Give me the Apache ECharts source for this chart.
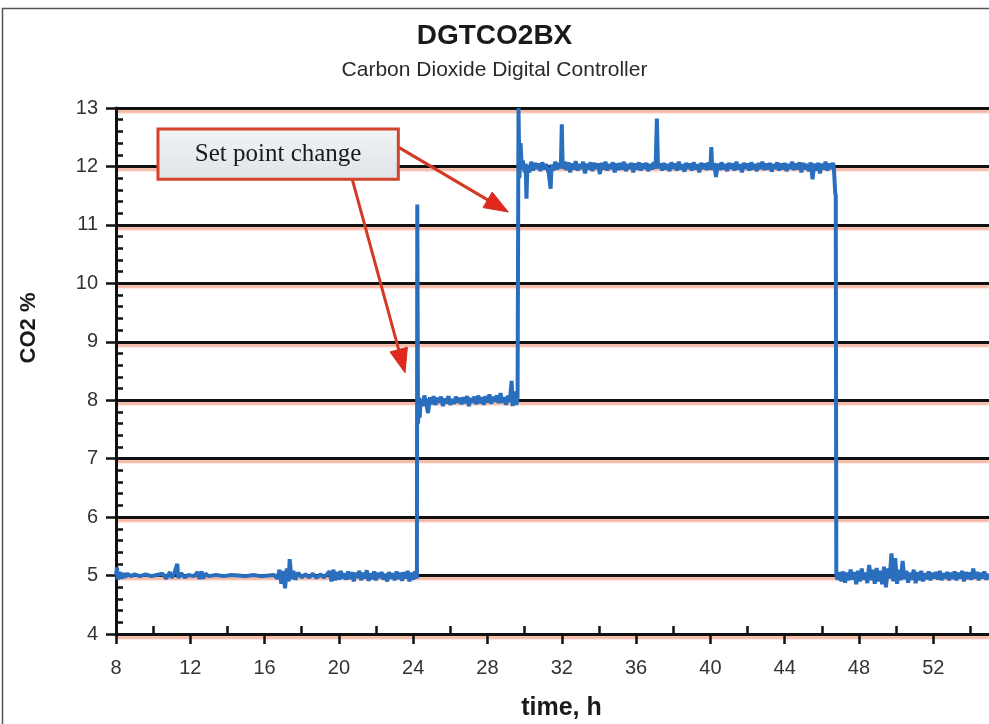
<!DOCTYPE html>
<html>
<head>
<meta charset="utf-8">
<script src="https://cdn.jsdelivr.net/npm/echarts@6/dist/echarts.min.js"></script>
<style>
html,body{margin:0;padding:0;background:#fff;overflow:hidden;}
#chart{width:989px;height:724px;}
</style>
</head>
<body>
<div id="chart"></div>
<script>
// ---- data ----
var chartTitle = 'DGTCO2BX';
var chartSubtitle = 'Carbon Dioxide Digital Controller';
var xAxisName = 'time, h';
var yAxisName = 'CO2 %';
var annotationText = 'Set point change';

// [time h, CO2 %]
var baseline5a = [
[8.0,5.0],[8.05,5.14],[8.1,4.93],[8.2,5.06],[8.3,4.95],[8.4,5.04],[8.5,4.97],[8.6,5.03],[8.8,4.99],[9.0,5.02],
[9.3,4.99],[9.6,5.02],[9.9,4.99],[10.2,5.01],[10.5,5.03],[10.7,4.95],[10.9,5.06],[11.0,4.96],[11.15,5.05],[11.3,5.2],
[11.35,4.96],[11.5,5.04],[11.7,4.97],[11.9,5.01],[12.2,4.99],[12.4,5.06],[12.5,4.94],[12.6,5.07],[12.7,4.95],[12.8,5.03],
[13.0,4.99],[13.4,5.01],[13.8,4.99],[14.2,5.01],[14.6,5.0],[15.0,4.99],[15.4,5.01],[15.8,4.99],[16.2,5.0],[16.5,5.01],
[16.7,4.95],[16.8,5.1],[16.9,4.86],[17.0,5.08],[17.1,4.78],[17.2,5.12],[17.3,4.9],[17.35,5.28],[17.45,4.94],[17.55,5.08],
[17.65,4.93],[17.8,5.05],[18.0,4.97],[18.2,5.02],[18.4,4.97],[18.6,5.03],[18.8,4.96],[19.0,5.02],[19.2,4.97],[19.5,5.07],
[19.6,4.9],[19.7,5.1],[19.8,4.92],[19.9,5.06],[20.0,4.93],[20.1,5.08],[20.2,4.95],[20.3,5.04],[20.4,4.93],[20.5,5.07],
[20.6,4.94],[20.7,5.06],[20.8,4.9],[20.9,5.05],[21.0,4.96],[21.1,5.08],[21.2,4.92],[21.3,5.05],[21.4,4.95],[21.5,5.09],
[21.6,4.91],[21.7,5.04],[21.8,4.94],[21.9,5.07],[22.0,4.92],[22.1,5.05],[22.2,4.96],[22.3,5.06],[22.4,4.93],[22.5,5.03],
[22.6,4.9],[22.7,5.06],[22.8,4.95],[22.9,5.04],[23.0,4.92],[23.1,5.07],[23.2,4.94],[23.3,5.05],[23.4,4.91],[23.5,5.06],
[23.6,4.95],[23.7,5.08],[23.8,4.9],[23.9,5.05],[24.0,4.93],[24.1,5.07],[24.2,4.95]
];
var stepTo8 = [[24.22,11.35],[24.26,7.6],[24.3,8.05]];
var level8 = [
[24.35,7.7],[24.4,8.02],[24.5,7.9],[24.6,8.08],[24.7,7.95],[24.8,7.78],[24.9,8.05],[25.0,7.93],[25.1,8.07],[25.2,7.92],
[25.3,8.04],[25.4,7.96],[25.5,8.06],[25.6,7.9],[25.7,8.03],[25.8,7.95],[25.9,8.07],[26.0,7.92],[26.1,8.02],[26.2,7.94],
[26.3,8.06],[26.4,7.96],[26.5,8.04],[26.6,7.93],[26.7,8.05],[26.8,7.95],[26.9,8.07],[27.0,7.9],[27.1,8.04],[27.2,7.96],
[27.3,8.06],[27.4,7.93],[27.5,8.08],[27.6,7.95],[27.7,8.05],[27.8,7.92],[27.9,8.07],[28.0,7.96],[28.1,8.1],[28.2,7.94],
[28.3,8.06],[28.4,7.98],[28.5,8.08],[28.6,7.95],[28.7,8.12],[28.8,7.96],[28.9,8.05],[29.0,7.92],[29.1,8.08],[29.2,7.97],
[29.3,8.33],[29.35,7.9],[29.45,8.15],[29.55,7.92],[29.62,8.05]
];
var stepTo12 = [[29.67,13.0],[29.72,11.8],[29.78,12.4],[29.85,11.95]];
var level12 = [
[29.9,12.1],[30.0,11.9],[30.05,12.05],[30.1,11.45],[30.15,12.02],[30.25,11.9],[30.35,12.08],[30.45,11.93],[30.55,12.06],[30.65,11.96],
[30.75,12.05],[30.85,11.92],[30.95,12.07],[31.05,11.95],[31.15,12.04],[31.3,11.88],[31.4,11.62],[31.45,12.03],[31.55,11.93],[31.65,12.08],
[31.75,11.95],[31.85,12.06],[31.95,11.97],[32.0,12.72],[32.05,11.96],[32.15,12.08],[32.25,11.94],[32.35,12.07],[32.45,11.9],[32.55,12.05],
[32.65,11.95],[32.75,12.09],[32.85,11.93],[32.95,12.04],[33.05,11.96],[33.15,12.08],[33.25,11.88],[33.35,12.05],[33.45,11.95],[33.55,12.07],
[33.65,11.92],[33.75,12.06],[33.85,11.96],[33.95,12.05],[34.05,11.87],[34.15,12.06],[34.25,11.95],[34.35,12.08],[34.45,11.93],[34.55,12.04],
[34.65,11.96],[34.75,12.07],[34.85,11.9],[34.95,12.05],[35.05,11.94],[35.15,12.06],[35.25,11.95],[35.35,12.08],[35.45,11.92],[35.55,12.04],
[35.65,11.96],[35.75,12.06],[35.85,11.9],[35.95,12.05],[36.05,11.95],[36.15,12.07],[36.25,11.93],[36.35,12.05],[36.45,11.96],[36.55,12.06],
[36.65,11.92],[36.75,12.04],[36.85,11.95],[36.95,12.07],[37.05,11.96],[37.12,12.82],[37.18,11.97],[37.3,12.05],[37.4,11.93],[37.5,12.06],
[37.6,11.95],[37.7,12.04],[37.8,11.92],[37.9,12.07],[38.0,11.96],[38.1,12.05],[38.2,11.93],[38.3,12.08],[38.4,11.95],[38.5,12.04],
[38.6,11.91],[38.7,12.06],[38.8,11.96],[38.9,12.05],[39.0,11.93],[39.1,12.07],[39.2,11.95],[39.3,12.04],[39.4,11.9],[39.5,12.06],
[39.6,11.96],[39.7,12.05],[39.8,11.94],[39.9,12.07],[40.0,11.95],[40.05,12.33],[40.1,11.94],[40.2,12.06],[40.3,11.82],[40.4,12.05],
[40.5,11.94],[40.6,12.07],[40.7,11.95],[40.8,12.04],[40.9,11.92],[41.0,12.06],[41.1,11.96],[41.2,12.05],[41.3,11.93],[41.4,12.08],
[41.5,11.95],[41.6,12.04],[41.7,11.9],[41.8,12.06],[41.9,11.96],[42.0,12.05],[42.1,11.93],[42.2,12.07],[42.3,11.95],[42.4,12.04],
[42.5,11.92],[42.6,12.06],[42.7,11.96],[42.8,12.08],[42.9,11.94],[43.0,12.05],[43.1,11.95],[43.2,12.06],[43.3,11.91],[43.4,12.04],
[43.5,11.96],[43.6,12.07],[43.7,11.93],[43.8,12.05],[43.9,11.95],[44.0,12.06],[44.1,11.92],[44.2,12.04],[44.3,11.96],[44.4,12.08],
[44.5,11.94],[44.6,12.05],[44.7,11.95],[44.8,12.07],[44.9,11.9],[45.0,12.06],[45.1,11.95],[45.2,12.04],[45.3,11.92],[45.4,12.07],
[45.5,11.78],[45.6,12.05],[45.7,11.93],[45.8,12.06],[45.9,11.88],[46.0,12.05],[46.1,11.95],[46.2,12.08],[46.3,11.93],[46.4,12.05],
[46.5,11.96],[46.6,12.06],[46.65,11.97]
];
var stepTo5 = [[46.7,11.98],[46.72,11.55],[46.75,11.5],[46.78,5.0]];
var baseline5b = [
[46.85,4.93],[46.95,5.06],[47.05,4.9],[47.15,5.07],[47.25,4.88],[47.35,5.05],[47.45,4.92],[47.55,5.1],[47.65,4.93],[47.75,5.06],
[47.85,4.85],[47.95,5.08],[48.05,4.9],[48.15,5.12],[48.25,4.93],[48.35,5.05],[48.45,4.87],[48.55,5.18],[48.65,4.92],[48.75,5.1],
[48.85,4.86],[48.95,5.13],[49.05,4.9],[49.15,5.08],[49.25,4.85],[49.35,5.15],[49.45,4.8],[49.55,5.12],[49.65,4.95],[49.75,5.38],
[49.85,4.9],[49.95,5.3],[50.05,4.86],[50.15,5.1],[50.25,4.92],[50.35,5.25],[50.45,4.94],[50.55,5.08],[50.65,4.88],[50.75,5.05],
[50.85,4.93],[50.95,5.1],[51.05,4.87],[51.15,5.06],[51.25,4.92],[51.35,5.08],[51.45,4.9],[51.55,5.04],[51.65,4.94],[51.75,5.07],
[51.85,4.92],[51.95,5.05],[52.05,4.95],[52.15,5.06],[52.25,4.93],[52.35,5.08],[52.45,4.92],[52.55,5.04],[52.65,4.95],[52.75,5.06],
[52.85,4.92],[52.95,5.05],[53.05,4.94],[53.15,5.07],[53.25,4.92],[53.35,5.05],[53.45,4.95],[53.55,5.08],[53.65,4.9],[53.75,5.06],
[53.85,4.94],[53.95,5.05],[54.05,4.93],[54.15,5.12],[54.25,4.95],[54.35,5.06],[54.45,4.92],[54.55,5.05],[54.65,4.95],[54.75,5.07],
[54.85,4.93],[55.0,5.03]
];

var xMin = 8, xMax = 55, xStep = 4;
var yMin = 4, yMax = 13, yStep = 1;

// annotation anchors in data coordinates [time, CO2]
var boxTopLeft = [10.26, 12.64], boxBottomRight = [23.2, 11.78];
var arrow1 = {from: [23.2, 12.33], to: [29.12, 11.22]};
var arrow2 = {from: [20.72, 11.78], to: [23.56, 8.47]};

var co2Data = [].concat(baseline5a, stepTo8, level8, stepTo12, level12, stepTo5, baseline5b);

var chart = echarts.init(document.getElementById('chart'), null, {renderer: 'canvas', width: 989, height: 724});
var FONT = '"Liberation Sans", Arial, sans-serif';

var option = {
  backgroundColor: '#ffffff',
  animation: false,
  title: {
    text: chartTitle,
    subtext: chartSubtitle,
    left: 'center',
    top: 17,
    itemGap: 10,
    textStyle: {fontFamily: FONT, fontSize: 28, fontWeight: 'bold', color: '#1a1a1a'},
    subtextStyle: {fontFamily: FONT, fontSize: 21, color: '#2a2a2a'}
  },
  grid: {left: 116, width: 873, top: 108, height: 526, containLabel: false, outerBoundsMode: 'none'},
  xAxis: [{
    type: 'value', min: xMin, max: xMax, interval: xStep,
    name: xAxisName, nameLocation: 'middle', nameGap: 62,
    nameTextStyle: {fontFamily: FONT, fontSize: 25, fontWeight: 'bold', color: '#1a1a1a', padding: [0, 0, 0, 18]},
    axisLine: {show: true, onZero: false, lineStyle: {color: '#111', width: 3}},
    axisTick: {show: true, inside: false, length: 10, lineStyle: {color: '#111', width: 2.5}},
    axisLabel: {fontFamily: FONT, fontSize: 20, color: '#333', margin: 24, showMaxLabel: false},
    splitLine: {show: false}
  }, {
    type: 'value', min: xMin, max: xMax, interval: xStep, position: 'bottom',
    axisLine: {show: false},
    axisTick: {show: false, inside: true},
    minorTick: {show: true, splitNumber: 2, length: 8, lineStyle: {color: '#111', width: 2.5}},
    axisLabel: {show: false},
    splitLine: {show: false}
  }],
  yAxis: [{
    type: 'value', min: yMin, max: yMax, interval: yStep,
    name: yAxisName, nameLocation: 'middle', nameGap: 76, nameRotate: 90,
    nameTextStyle: {fontFamily: FONT, fontSize: 22, fontWeight: 'bold', color: '#1a1a1a', padding: [0, 0, 0, 86]},
    axisLine: {show: true, onZero: false, lineStyle: {color: '#111', width: 3}},
    axisTick: {show: true, inside: false, length: 10, lineStyle: {color: '#111', width: 2.5}},
    axisLabel: {fontFamily: FONT, fontSize: 20, color: '#333', margin: 18},
    splitLine: {show: true, lineStyle: {color: '#111', width: 3,
      shadowColor: 'rgba(235,110,70,0.55)', shadowOffsetY: 3, shadowBlur: 2}}
  }, {
    type: 'value', min: yMin, max: yMax, interval: yStep, position: 'left',
    axisLine: {show: false},
    axisTick: {show: false, inside: true},
    minorTick: {show: true, splitNumber: 5, length: 7, lineStyle: {color: '#111', width: 2.5}},
    axisLabel: {show: false},
    splitLine: {show: false}
  }],
  series: [{
    type: 'line',
    name: yAxisName,
    xAxisIndex: 0, yAxisIndex: 0,
    data: co2Data,
    showSymbol: false,
    symbol: 'none',
    lineStyle: {color: '#2a6fbd', width: 4},
    z: 3
  }]
};
chart.setOption(option);

function px(p) { return chart.convertToPixel({gridIndex: 0}, p); }
function arrowGraphics(a) {
  var s = px(a.from), e = px(a.to);
  var dx = e[0] - s[0], dy = e[1] - s[1];
  var L = Math.sqrt(dx * dx + dy * dy);
  var ux = dx / L, uy = dy / L;
  var headLen = 24, headW = 9;
  var bx = e[0] - ux * headLen, by = e[1] - uy * headLen;
  return [{
    type: 'line', z: 20,
    shape: {x1: s[0], y1: s[1], x2: bx, y2: by},
    style: {stroke: '#d23a24', lineWidth: 3}
  }, {
    type: 'polygon', z: 20,
    shape: {points: [[e[0], e[1]], [bx - uy * headW, by + ux * headW], [bx + uy * headW, by - ux * headW]]},
    style: {fill: '#e0281c', stroke: '#c8301f', lineWidth: 1}
  }];
}
var tl = px(boxTopLeft), br = px(boxBottomRight);
var graphics = [{
  type: 'rect', z: 0, silent: true,
  shape: {x: 2.5, y: 8.5, width: 1100, height: 800},
  style: {fill: null, stroke: '#555', lineWidth: 1.5}
}, {
  type: 'rect', z: 21,
  shape: {x: tl[0], y: tl[1], width: br[0] - tl[0], height: br[1] - tl[1]},
  style: {
    fill: new echarts.graphic.LinearGradient(0, 0, 0, 1, [
      {offset: 0, color: '#f2f4f6'}, {offset: 1, color: '#dfe4e9'}
    ]),
    stroke: '#d4432b', lineWidth: 3
  }
}, {
  type: 'text', z: 22,
  x: (tl[0] + br[0]) / 2, y: (tl[1] + br[1]) / 2,
  style: {
    text: annotationText, textAlign: 'center', textVerticalAlign: 'middle',
    font: '25px "Liberation Serif", "DejaVu Serif", serif', fill: '#1a1a1a'
  }
}].concat(arrowGraphics(arrow1), arrowGraphics(arrow2));
chart.setOption({graphic: graphics});
</script>
</body>
</html>
